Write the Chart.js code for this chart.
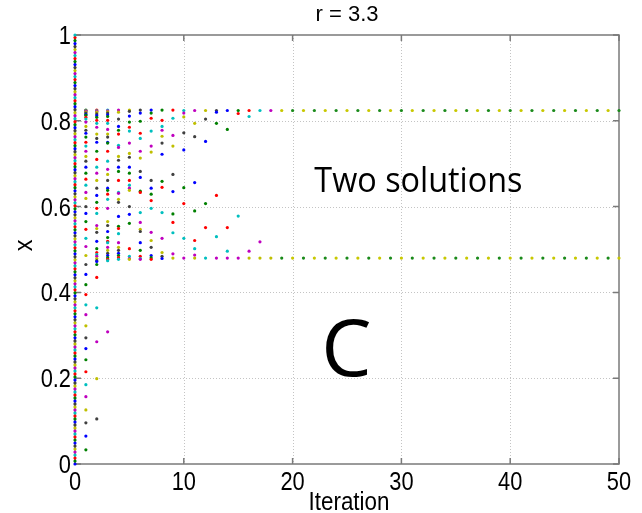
<!DOCTYPE html>
<html>
<head>
<meta charset="utf-8">
<script src="https://cdn.jsdelivr.net/npm/chart.js@4.4.0/dist/chart.umd.min.js"></script>
<style>
html, body { margin: 0; padding: 0; background: #fff; }
</style>
</head>
<body>
<canvas id="c" width="642" height="513"></canvas>
<script>
// logistic map, r = 3.3 : x values, one array per iteration
var it0 = [0,.007,.014,.021,.028,.035,.042,.049,.056,.063,.07,.077,.084,.091,.098,.105,.112,.119,.126,.133,.14,.147,.154,.161,.168,.175,.182,.189,.196,.203,.21,.217,.224,.231,.238,.245,.252,.259,.266,.273,.28,.287,.294,.301,.308,.315,.322,.329,.336,.343,.35,.357,.364,.371,.378,.385,.392,.399,.406,.413,.42,.427,.434,.441,.448,.455,.462,.469,.476,.483,.49,.497,.504,.511,.518,.525,.532,.539,.546,.553,.56,.567,.574,.581,.588,.595,.602,.609,.616,.623,.63,.637,.644,.651,.658,.665,.672,.679,.686,.693,.7,.707,.714,.721,.728,.735,.742,.749,.756,.763,.77,.777,.784,.791,.798,.805,.812,.819,.826,.833,.84,.847,.854,.861,.868,.875,.882,.889,.896,.903,.91,.917,.924,.931,.938,.945,.952,.959,.966,.973,.98,.987,.994,1];
var it1 = [0.825,0.824,0.823,0.822,0.820,0.818,0.815,0.813,0.808,0.804,0.797,0.787,0.778,0.771,0.762,0.750,0.741,0.729,0.717,0.706,0.692,0.678,0.664,0.650,0.633,0.619,0.600,0.584,0.565,0.547,0.526,0.507,0.486,0.465,0.442,0.418,0.395,0.371,0.348,0.322,0.294,0.269,0.243,0.215,0.185,0.157,0.126,0.096,0.065,0.033];
var it2 = [0.825,0.823,0.822,0.820,0.816,0.812,0.808,0.801,0.794,0.785,0.769,0.759,0.750,0.729,0.710,0.692,0.678,0.661,0.643,0.626,0.610,0.596,0.584,0.556,0.549,0.540,0.519,0.502,0.493,0.488,0.484,0.479,0.474,0.472,0.465,0.435,0.364,0.285,0.199,0.105];
var it3 = [0.825,0.823,0.821,0.818,0.814,0.810,0.801,0.794,0.780,0.769,0.762,0.750,0.748,0.729,0.706,0.687,0.675,0.661,0.643,0.638,0.629,0.617,0.596,0.565,0.556,0.542,0.528,0.519,0.516,0.505,0.498,0.491,0.486,0.481,0.477,0.474,0.308];
var it4 = [0.825,0.820,0.804,0.787,0.778,0.769,0.743,0.738,0.717,0.708,0.692,0.682,0.661,0.633,0.631,0.617,0.610,0.577,0.554,0.549,0.537,0.516,0.505,0.498,0.491,0.486,0.481,0.477];
var it5 = [0.825,0.822,0.811,0.797,0.785,0.776,0.748,0.724,0.715,0.692,0.678,0.661,0.650,0.643,0.638,0.600,0.582,0.561,0.502,0.484,0.479,0.477];
var it6 = [0.825,0.818,0.799,0.771,0.759,0.729,0.713,0.682,0.668,0.636,0.633,0.586,0.563,0.547,0.542,0.516,0.498,0.484,0.479,0.477];
var it7 = [0.825,0.818,0.806,0.776,0.741,0.727,0.661,0.643,0.629,0.614,0.596,0.540,0.521,0.505,0.486,0.481,0.477];
var it8 = [0.825,0.801,0.787,0.778,0.764,0.748,0.722,0.659,0.645,0.586,0.526,0.493,0.484,0.479];
var it9 = [0.825,0.806,0.766,0.741,0.675,0.635,0.583,0.563,0.539,0.490,0.480];
var it10 = [0.824,0.818,0.809,0.772,0.732,0.644,0.607,0.526,0.480];
var it11 = [0.824,0.794,0.763,0.656,0.590,0.521,0.502,0.487,0.480];
var it12 = [0.824,0.804,0.752,0.607,0.551,0.480];
var it13 = [0.824,0.820,0.794,0.626,0.530,0.480];
var it14 = [0.824,0.780,0.551,0.496,0.480];
var it15 = [0.824,0.817,0.578,0.480];
var it16 = [0.824,0.810,0.496,0.480];
var it17 = [0.824,0.518,0.480];
var it18 = [0.824,0.480];

// after ~19 iterations only the two solutions are left
var tailIter = [19,20,21,22,23,24,25,26,27,28,29,30,31,32,33,34,35,36,37,38,39,40,41,42,43,44,45,46,47,48,49,50];
var tailHigh = [0.824,0.824,0.824,0.824,0.824,0.824,0.824,0.824,0.824,0.824,0.824,0.824,0.824,0.824,0.824,0.824,0.824,0.824,0.824,0.824,0.824,0.824,0.824,0.824,0.824,0.824,0.824,0.824,0.824,0.824,0.824,0.824];
var tailLow = [0.480,0.480,0.480,0.480,0.480,0.480,0.480,0.480,0.480,0.480,0.480,0.480,0.480,0.480,0.480,0.480,0.480,0.480,0.480,0.480,0.480,0.480,0.480,0.480,0.480,0.480,0.480,0.480,0.480,0.480,0.480,0.480];

var xTicks = [0, 10, 20, 30, 40, 50];
var yTicks = [0, 0.2, 0.4, 0.6, 0.8, 1];
var yTickLabels = ['0', '0.2', '0.4', '0.6', '0.8', '1'];

// matlab default line colors
var palette = ['#0000ff', '#008000', '#ff0000', '#00bfbf', '#bf00bf', '#bfbf00', '#404040'];
var yel = '#c8c800', grn = '#1a8a1a';

var cols = [it0, it1, it2, it3, it4, it5, it6, it7, it8, it9, it10, it11, it12, it13, it14, it15, it16, it17, it18];
var pts = [];
var colors = [];
for (let c = 0; c < cols.length; c++) {
    for (let i = 0; i < cols[c].length; i++) {
        pts.push({ x: c, y: cols[c][i] });
        colors.push(palette[(i + c) % 7]);
    }
}
for (let i = 0; i < tailIter.length; i++) {
    let odd = tailIter[i] % 2 == 1;
    pts.push({ x: tailIter[i], y: tailHigh[i] });
    colors.push(odd ? yel : grn);
    pts.push({ x: tailIter[i], y: tailLow[i] });
    colors.push(odd ? grn : yel);
}

function txt(ctx, s, x, y, font, align, sx) {
    ctx.save();
    ctx.translate(x, y);
    ctx.scale(sx, 1);
    ctx.font = font;
    ctx.textAlign = align;
    ctx.textBaseline = 'alphabetic';
    ctx.fillStyle = '#000';
    ctx.fillText(s, 0, 0);
    ctx.restore();
}

// text squeezed to a given ink width
function fitTxt(ctx, s, left, base, font, w) {
    ctx.save();
    ctx.font = font;
    let m = ctx.measureText(s);
    let ink = m.actualBoundingBoxLeft + m.actualBoundingBoxRight;
    let sx = w / ink;
    ctx.translate(left, base);
    ctx.scale(sx, 1);
    ctx.textAlign = 'left';
    ctx.fillStyle = '#000';
    ctx.fillText(s, m.actualBoundingBoxLeft, 0);
    ctx.restore();
}

var matlabAxes = {
    id: 'matlabAxes',
    beforeDatasetsDraw(chart) {
        const ctx = chart.ctx, a = chart.chartArea;
        const xs = chart.scales.x, ys = chart.scales.y;
        ctx.save();
        ctx.strokeStyle = '#c4c4c4';
        ctx.lineWidth = 1;
        ctx.setLineDash([1, 2]);
        for (let v of xTicks.slice(1, -1)) {
            let px = Math.round(xs.getPixelForValue(v)) + 0.5;
            ctx.beginPath(); ctx.moveTo(px, a.top); ctx.lineTo(px, a.bottom); ctx.stroke();
        }
        for (let v of yTicks.slice(1, -1)) {
            let py = Math.round(ys.getPixelForValue(v)) + 0.5;
            ctx.beginPath(); ctx.moveTo(a.left, py); ctx.lineTo(a.right, py); ctx.stroke();
        }
        ctx.setLineDash([]);
        ctx.strokeStyle = '#7a7a7a';
        ctx.lineWidth = 1.5;
        ctx.strokeRect(a.left, a.top, a.right - a.left, a.bottom - a.top);
        ctx.lineWidth = 1.5;
        for (let v of xTicks) {
            let px = xs.getPixelForValue(v);
            ctx.beginPath();
            ctx.moveTo(px, a.bottom); ctx.lineTo(px, a.bottom - 6);
            ctx.moveTo(px, a.top); ctx.lineTo(px, a.top + 6);
            ctx.stroke();
        }
        for (let v of yTicks) {
            let py = ys.getPixelForValue(v);
            ctx.beginPath();
            ctx.moveTo(a.left, py); ctx.lineTo(a.left + 6, py);
            ctx.moveTo(a.right, py); ctx.lineTo(a.right - 6, py);
            ctx.stroke();
        }
        ctx.restore();
    },
    afterDraw(chart) {
        const ctx = chart.ctx, a = chart.chartArea;
        const xs = chart.scales.x, ys = chart.scales.y;
        const tf = '26px "Liberation Sans", Arial, sans-serif';
        for (let v of xTicks) {
            txt(ctx, String(v), xs.getPixelForValue(v), a.bottom + 26, tf, 'center', 0.84);
        }
        for (let i = 0; i < yTicks.length; i++) {
            txt(ctx, yTickLabels[i], a.left - 4, ys.getPixelForValue(yTicks[i]) + 9, tf, 'right', 0.84);
        }
        txt(ctx, 'r = 3.3', (a.left + a.right) / 2, 21, '22px "Liberation Sans", Arial, sans-serif', 'center', 1);
        txt(ctx, 'Iteration', (a.left + a.right) / 2 + 2, 510, tf, 'center', 0.86);
        ctx.save();
        ctx.translate(32, (a.top + a.bottom) / 2 - 4);
        ctx.rotate(-Math.PI / 2);
        txt(ctx, 'x', 0, 0, tf, 'center', 0.9);
        ctx.restore();
        fitTxt(ctx, 'Two solutions', xs.getPixelForValue(22), ys.getPixelForValue(0.634), '34px "Open Sans", "Noto Sans", sans-serif', 207);
        fitTxt(ctx, 'C', xs.getPixelForValue(23), ys.getPixelForValue(0.206), '78px "Open Sans", "Noto Sans", sans-serif', 44);
    }
};

var ctx = document.getElementById('c').getContext('2d');
var chart = new Chart(ctx, {
    type: 'scatter',
    data: {
        datasets: [{
            data: pts,
            pointBackgroundColor: colors,
            pointBorderWidth: 0,
            pointRadius: 1.6,
            pointHoverRadius: 1.6,
            clip: false
        }]
    },
    options: {
        responsive: false,
        animation: false,
        devicePixelRatio: 1,
        layout: { padding: { top: 35, right: 23, left: 0, bottom: 0 } },
        plugins: { legend: { display: false }, tooltip: { enabled: false }, title: { display: false } },
        scales: {
            x: {
                type: 'linear', min: 0, max: 50,
                ticks: { display: false, stepSize: 10 },
                grid: { display: false }, border: { display: false },
                afterFit: function (s) { s.height = 49; }
            },
            y: {
                type: 'linear', min: 0, max: 1,
                ticks: { display: false, stepSize: 0.2 },
                grid: { display: false }, border: { display: false },
                afterFit: function (s) { s.width = 75; }
            }
        }
    },
    plugins: [matlabAxes]
});
</script>
</body>
</html>
